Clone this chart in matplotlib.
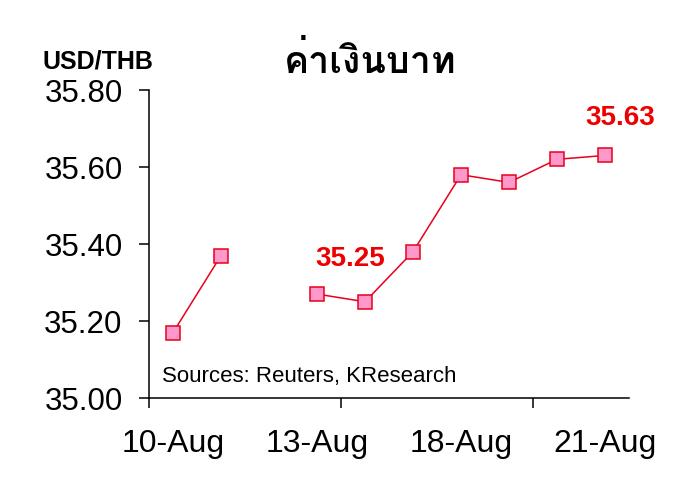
import matplotlib
matplotlib.use("Agg")
import numpy as np
import matplotlib.pyplot as plt

# daily USD/THB close, 12-Aug was a holiday (no fixing)
dates = ["10-Aug", "11-Aug", "12-Aug", "13-Aug", "14-Aug",
         "15-Aug", "18-Aug", "19-Aug", "20-Aug", "21-Aug"]
rates = [35.17, 35.37, np.nan, 35.27, 35.25, 35.38, 35.58, 35.56, 35.62, 35.63]
shown_labels = [0, 3, 6, 9]
annotated = {4: (-11, 31), 9: (11, 27)}

plt.rcParams['font.family'] = ['Liberation Sans', 'DejaVu Sans']

fig = plt.figure(figsize=(7, 5.04), dpi=100)
ax = fig.add_axes([0.2129, 0.2103, 0.6857, 0.6111])

x = np.arange(len(dates))
ax.plot(x, rates, color='#e8001c', lw=1.1, marker='s', markersize=9.5,
        markerfacecolor='#ff99cc', markeredgecolor='#e8001c', markeredgewidth=1.1)

for i, off in annotated.items():
    ax.annotate(f"{rates[i]:.2f}", (x[i], rates[i]), xytext=off, textcoords='offset points',
                ha='center', va='center', color='#ee0000', fontsize=20, fontweight='bold')

ax.set_xlim(-0.5, len(dates) - 0.5)
ax.set_ylim(35.0, 35.8)
ax.set_yticks(np.arange(35.0, 35.81, 0.2))
ax.set_yticklabels([f"{v:.2f}" for v in np.arange(35.0, 35.81, 0.2)])
ax.tick_params(axis='y', direction='out', length=7, width=1.1, pad=12, labelsize=22.5)

# boundary ticks every 4 categories, labels on selected days
ax.set_xticks([-0.5, 3.5, 7.5])
ax.set_xticklabels([])
ax.set_xticks(shown_labels, minor=True)
ax.set_xticklabels([dates[i] for i in shown_labels], minor=True)
ax.tick_params(axis='x', which='major', direction='out', length=7, width=1.1)
ax.tick_params(axis='x', which='minor', length=0, pad=22, labelsize=23)

for s in ['top', 'right']:
    ax.spines[s].set_visible(False)
for s in ['left', 'bottom']:
    ax.spines[s].set_linewidth(1.1)

ax.text(0.027, 0.071, "Sources: Reuters, KResearch", transform=ax.transAxes,
        fontsize=16, va='center', ha='left')

fig.text(0.06, 0.877, "USD/THB", fontsize=18, fontweight='bold', va='center', ha='left')
fig.text(0.529, 0.855, "ค่าเงินบาท", fontsize=27, fontweight='bold', va='baseline',
         ha='center', family=['Loma', 'DejaVu Sans'])

fig.savefig("out.png")
